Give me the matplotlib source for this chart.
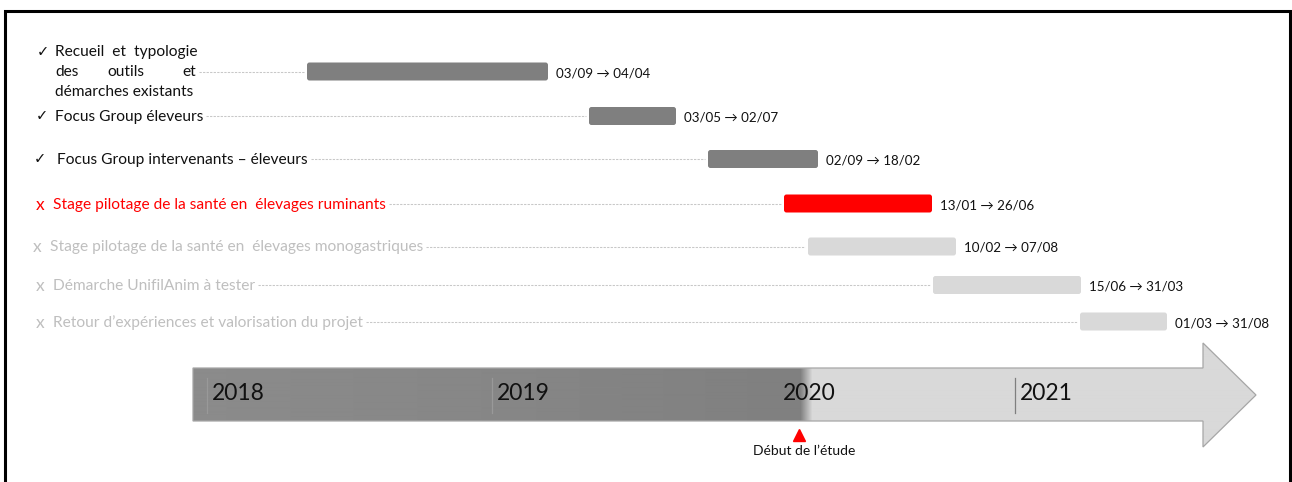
import numpy as np
import matplotlib.pyplot as plt
from matplotlib.patches import Polygon, FancyBboxPatch
from matplotlib.colors import LinearSegmentedColormap

plt.rcParams['font.family'] = ['Lato', 'DejaVu Sans']

# données (unités = position sur la frise)
task_marks = ['✓', '✓', '✓', 'x', 'x', 'x', 'x']
task_labels = [
    None,  # libellé sur trois lignes, traité à part
    'Focus Group éleveurs',
    'Focus Group intervenants – éleveurs',
    'Stage pilotage de la santé en  élevages ruminants',
    'Stage pilotage de la santé en  élevages monogastriques',
    'Démarche UnifilAnim à tester',
    'Retour d’expériences et valorisation du projet',
]
task_status = ['done', 'done', 'done', 'current', 'todo', 'todo', 'todo']
date_labels = ['03/09 → 04/04', '03/05 → 02/07', '02/09 → 18/02', '13/01 → 26/06',
               '10/02 → 07/08', '15/06 → 31/03', '01/03 → 31/08']
bar_start = [307, 589, 708, 784, 808, 933, 1080]
bar_end = [548, 676, 818, 932, 956, 1081, 1167]
years = ['2018', '2019', '2020', '2021']
year_pos = [207, 492, 778, 1015]
study_start = 799

# mise en page
row_y = [71.5, 116, 159, 203.5, 246.5, 285, 321.5]
text_colors = {'done': '#111111', 'current': '#ff0000', 'todo': '#bfbfbf'}
bar_colors = {'done': '#7f7f7f', 'current': '#ff0000', 'todo': '#d9d9d9'}
FS = 11.2

W, H = 1292, 482
fig = plt.figure(figsize=(W / 100, H / 100), dpi=100)
ax = fig.add_axes([0, 0, 1, 1])
ax.set_xlim(0, W)
ax.set_ylim(H, 0)
ax.axis('off')

# cadre noir
ax.plot([5, 5, 1290, 1290], [H + 5, 11, 11, H + 5], color='black', lw=2.2,
        solid_joinstyle='miter', clip_on=False)

# libellés
label_texts = []
mark_x = [37, 36, 34, 36, 33, 36, 36]
text_x = [55, 55, 57, 53, 50, 53, 53]
for i, (mk, lab, st) in enumerate(zip(task_marks, task_labels, task_status)):
    c = text_colors[st]
    if mk == '✓':
        ax.text(mark_x[i], row_y[i] if i else 52, mk, color=c, fontsize=10.5,
                va='center', ha='left', family=['DejaVu Sans'])
    else:
        ax.text(mark_x[i], row_y[i] + 1, mk, color=c, fontsize=12.5,
                va='center', ha='left')
    if lab is None:
        y1, y2, y3 = 52, 72, 92
        ax.text(text_x[i], y1, 'Recueil  et  typologie', color=c, fontsize=FS, va='center')
        ax.text(text_x[i], y2, 'des', color=c, fontsize=FS, va='center')
        ax.text(126, y2, 'outils', color=c, fontsize=FS, va='center', ha='center')
        t = ax.text(196, y2, 'et', color=c, fontsize=FS, va='center', ha='right')
        ax.text(text_x[i], y3, 'démarches existants', color=c, fontsize=FS, va='center')
    else:
        t = ax.text(text_x[i], row_y[i] + 1, lab, color=c, fontsize=FS, va='center')
    label_texts.append(t)

fig.canvas.draw()
renderer = fig.canvas.get_renderer()
inv = ax.transData.inverted()

# barres, pointillés et dates
for i in range(len(bar_start)):
    st = task_status[i]
    bb = label_texts[i].get_window_extent(renderer)
    x_end_label = inv.transform((bb.x1, bb.y0))[0] + 3
    ax.plot([x_end_label, bar_start[i] - 3], [row_y[i], row_y[i]], color='#c8c8c8',
            lw=0.75, dashes=(2.2, 1.2))
    ax.add_patch(FancyBboxPatch((bar_start[i], row_y[i] - 9), bar_end[i] - bar_start[i], 18,
                                boxstyle='round,pad=0,rounding_size=2.5',
                                fc=bar_colors[st], ec='none'))
    ax.text(bar_end[i] + 8, row_y[i] + 1.5, date_labels[i], fontsize=9.6,
            color='#111111', va='center', ha='left')

# frise chronologique en flèche
arrow_pts = [(193, 368), (1203, 368), (1203, 343), (1256, 395),
             (1203, 447), (1203, 421), (193, 421)]
arrow = Polygon(arrow_pts, closed=True, fc='none', ec='#a6a6a6', lw=0.9, zorder=3)
ax.add_patch(arrow)
xs = np.arange(193, 1257)
shade = np.interp(xs, [193, 520, 790, 800, 812, 1256],
                  [0.545, 0.525, 0.50, 0.50, 0.85, 0.85])
cmap = LinearSegmentedColormap.from_list('g', ['black', 'white'])
img = ax.imshow(shade[None, :], cmap=cmap, vmin=0, vmax=1, aspect='auto',
                extent=(193, 1257, 447, 343), interpolation='bilinear', zorder=2)
img.set_clip_path(arrow)

for yr, xp in zip(years, year_pos):
    tick_c = '#999999' if xp < 790 else '#7f7f7f'
    if yr != '2020':
        ax.plot([xp, xp], [378, 413], color=tick_c, lw=0.9, zorder=4)
    ax.text(xp + 5, 394, yr, fontsize=16.5, color='#111111', va='center', ha='left', zorder=5)

# début de l'étude
ax.plot([study_start], [435], marker='^', color='#ff0000', markersize=9, zorder=5)
ax.text(study_start + 5, 451, 'Début de l’étude', fontsize=10, color='#111111',
        va='center', ha='center')

fig.savefig('out.png', dpi=100)
